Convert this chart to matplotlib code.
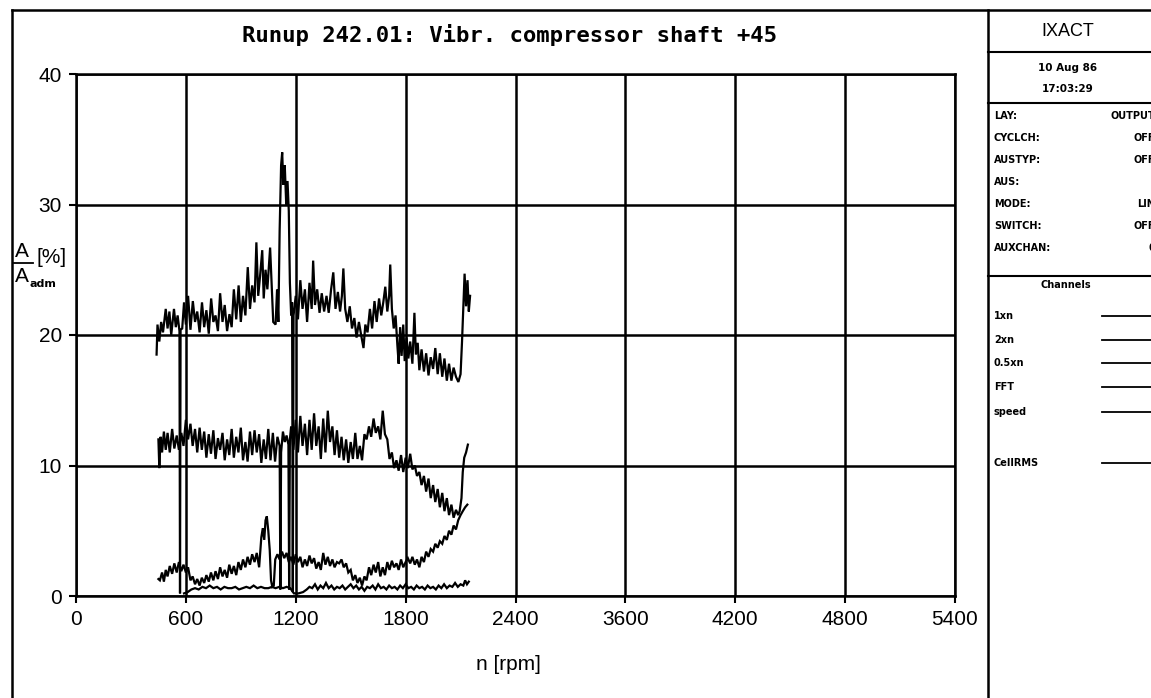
import matplotlib
matplotlib.use("Agg")
import matplotlib.pyplot as plt
from matplotlib.lines import Line2D

# ---------------- data ----------------
x_tick_pos = [0, 600, 1200, 1800, 2400, 3000, 3600, 4200, 4800]
x_tick_labels = ["0", "600", "1200", "1800", "2400", "3600", "4200", "4800", "5400"]
y_ticks = [0, 10, 20, 30, 40]

# trace 1 (upper, ~20 %)
s1_rpm = [440, 445, 455, 465, 475, 490, 500, 510, 520, 535, 545, 555, 565, 568, 571,
          580, 590, 600, 612, 625, 638, 650, 662, 675, 688, 700, 712, 725, 738, 750,
          762, 775, 787, 800, 812, 825, 838, 850, 862, 875, 888, 900, 912, 925, 938,
          950, 962, 975, 985, 995, 1005, 1017, 1025, 1035, 1045, 1060, 1068, 1077, 1090,
          1098, 1105, 1112, 1120, 1126, 1132, 1140, 1148, 1155, 1162, 1168, 1175, 1180,
          1184, 1188, 1200, 1212, 1225, 1237, 1250, 1262, 1275, 1287, 1295, 1305, 1317,
          1330, 1342, 1355, 1368, 1380, 1393, 1405, 1417, 1430, 1442, 1452, 1460, 1470,
          1482, 1495, 1507, 1520, 1532, 1545, 1557, 1570, 1580, 1592, 1605, 1617, 1630,
          1642, 1655, 1667, 1678, 1689, 1700, 1710, 1716, 1725, 1735, 1745, 1755, 1762,
          1770, 1778, 1787, 1795, 1805, 1815, 1825, 1837, 1848, 1856, 1866, 1875, 1887,
          1900, 1912, 1925, 1937, 1950, 1962, 1975, 1987, 2000, 2012, 2025, 2037, 2050,
          2062, 2075, 2088, 2100, 2108, 2115, 2122, 2130, 2138, 2145, 2152]
s1_amp = [18.5, 20.8, 19.5, 21.0, 20.2, 22.0, 20.5, 21.8, 20.0, 22.0, 20.6, 21.5, 20.3, 0.2, 20.4,
          20.5, 22.5, 20.8, 23.0, 20.4, 22.6, 21.0, 21.8, 20.2, 22.5, 20.6, 21.9, 20.1, 22.8, 21.0,
          21.5, 20.3, 23.2, 21.0, 22.3, 20.3, 21.6, 20.6, 23.5, 21.2, 23.8, 21.0, 23.0, 21.5, 25.2,
          22.0, 23.8, 22.5, 27.1, 23.0, 24.5, 26.5, 22.8, 25.0, 23.5, 26.7, 24.0, 21.0, 20.8,
          23.5, 21.0, 28.0, 33.0, 34.0, 31.5, 33.0, 30.0, 31.8, 29.5, 24.0, 21.5, 22.5,
          0.3, 21.5, 23.0, 21.2, 24.2, 22.0, 23.5, 21.0, 24.0, 22.0, 25.7, 22.3, 23.5,
          21.7, 23.2, 21.8, 23.0, 21.7, 23.5, 24.8, 22.0, 23.3, 21.8, 23.0, 25.1, 22.0,
          21.0, 22.2, 20.5, 21.3, 19.8, 21.0, 20.0, 19.0, 20.8, 20.2, 22.0, 20.5, 22.6,
          21.0, 22.8, 21.5, 22.5, 23.7, 21.8, 23.0, 25.4, 22.0, 20.5, 21.5, 19.2, 17.8,
          20.6, 18.4, 20.8, 18.0, 19.8, 18.2, 19.5, 17.8, 21.7, 18.5, 19.4, 17.3, 18.9,
          17.2, 18.6, 16.9, 18.3, 17.4, 19.0, 17.0, 18.6, 16.8, 18.2, 16.5, 17.8, 16.5,
          17.5, 16.8, 16.4, 17.0, 19.5, 22.0, 24.7, 22.2, 24.2, 21.8, 23.0]

# trace 2 (~12 %)
s2_rpm = [450, 455, 462, 470, 480, 490, 500, 512, 525, 537, 550, 562, 575, 587, 600,
          612, 625, 637, 650, 662, 675, 687, 700, 712, 725, 737, 750, 762, 775, 787,
          800, 812, 825, 837, 850, 862, 875, 887, 900, 912, 925, 937, 950, 962, 975,
          987, 1000, 1012, 1025, 1037, 1050, 1062, 1075, 1087, 1100, 1112, 1116, 1120,
          1130, 1140, 1150, 1160, 1164, 1168, 1175, 1187, 1200, 1212, 1225, 1237, 1250,
          1262, 1275, 1287, 1300, 1312, 1325, 1337, 1350, 1362, 1375, 1387, 1400, 1412,
          1425, 1437, 1450, 1462, 1475, 1487, 1500, 1512, 1525, 1537, 1550, 1562, 1575,
          1587, 1600, 1612, 1625, 1637, 1650, 1662, 1675, 1687, 1700, 1712, 1725, 1737,
          1750, 1762, 1775, 1787, 1800, 1812, 1825, 1837, 1850, 1862, 1875, 1887, 1900,
          1912, 1925, 1937, 1950, 1962, 1975, 1987, 2000, 2012, 2025, 2037, 2050, 2062,
          2075, 2087, 2095, 2105, 2112, 2120, 2130, 2140]
s2_amp = [12.0, 9.8, 12.2, 11.0, 12.6, 11.2, 12.5, 11.0, 12.8, 11.3, 12.3, 11.2, 12.5, 11.5, 13.5,
          12.0, 13.2, 11.5, 12.8, 11.0, 12.9, 11.2, 12.6, 10.6, 12.4, 10.9, 12.7, 10.5, 12.1, 11.2,
          12.5, 10.4, 12.0, 10.8, 12.8, 10.6, 12.2, 11.0, 12.9, 10.4, 11.8, 10.3, 12.6, 10.8, 12.7,
          11.0, 12.4, 10.2, 12.0, 10.5, 12.8, 10.4, 12.5, 10.3, 12.2, 11.5, 0.5, 11.0,
          12.6, 11.8, 12.3, 11.6, 0.5, 12.0, 13.0, 11.2, 13.5, 11.0, 13.8, 11.5, 13.2,
          10.8, 13.5, 11.2, 14.0, 11.5, 13.0, 10.5, 13.6, 11.0, 14.2, 11.8, 13.0, 10.8,
          12.7, 10.6, 12.2, 10.4, 12.0, 10.2, 11.8, 10.5, 12.5, 10.5, 11.5, 10.4, 12.4,
          12.0, 13.0, 12.2, 13.6, 12.5, 13.0, 12.0, 14.2, 12.4, 12.0, 10.5, 11.0, 9.8,
          10.4, 9.6, 10.8, 9.5, 10.6, 9.8, 10.9, 9.7, 10.0, 9.2, 9.5, 8.5, 9.2,
          8.0, 9.0, 7.5, 8.5, 7.2, 8.2, 6.8, 7.9, 6.5, 7.5, 6.2, 7.0, 6.0,
          6.6, 6.2, 6.5, 7.5, 9.5, 10.6, 11.0, 11.6]

# trace 3 (~2 %, rising at the end)
s3_rpm = [450, 458, 470, 480, 490, 500, 512, 525, 537, 550, 562, 575, 587, 600, 612,
          625, 637, 650, 662, 675, 687, 700, 712, 725, 737, 750, 762, 775, 787, 800,
          812, 825, 837, 850, 862, 875, 887, 900, 912, 925, 937, 950, 962, 975, 987,
          1000, 1012, 1020, 1028, 1035, 1042, 1050, 1058, 1065, 1072, 1080, 1088, 1100,
          1112, 1125, 1137, 1150, 1162, 1175, 1187, 1200, 1212, 1225, 1237, 1250, 1262,
          1275, 1287, 1300, 1312, 1325, 1337, 1350, 1362, 1375, 1387, 1400, 1412, 1425,
          1437, 1450, 1462, 1475, 1487, 1500, 1512, 1525, 1537, 1550, 1562, 1575, 1587,
          1600, 1612, 1625, 1637, 1650, 1662, 1675, 1687, 1700, 1712, 1725, 1737, 1750,
          1762, 1775, 1787, 1800, 1812, 1825, 1837, 1850, 1862, 1875, 1887, 1900, 1912,
          1925, 1937, 1950, 1962, 1975, 1987, 2000, 2012, 2025, 2037, 2050, 2062, 2075,
          2087, 2100, 2112, 2125, 2137]
s3_amp = [1.3, 1.2, 1.8, 1.1, 2.0, 1.5, 2.3, 1.7, 2.5, 1.8, 2.6, 1.9, 2.4, 1.8, 2.2,
          1.2, 1.5, 0.9, 1.3, 0.8, 1.4, 1.0, 1.6, 1.1, 1.8, 1.2, 1.9, 1.3, 2.2, 1.5,
          2.0, 1.4, 2.4, 1.7, 2.3, 1.6, 2.6, 2.0, 2.8, 2.2, 3.0, 2.4, 3.2, 2.6, 3.3,
          2.2, 4.5, 5.2, 4.3, 5.8, 6.1, 5.0, 3.5, 1.2, 0.7, 0.8, 2.8, 3.2,
          2.8, 3.4, 2.9, 3.3, 2.6, 3.0, 2.4, 3.2, 2.6, 3.0, 2.2, 2.8, 2.3,
          3.1, 2.5, 2.9, 2.1, 2.6, 2.0, 3.3, 2.4, 3.0, 2.3, 2.8, 2.2, 2.6,
          2.5, 2.8, 2.2, 2.5, 1.8, 2.0, 1.2, 1.6, 1.0, 1.4, 0.8, 1.5, 1.2,
          2.2, 1.6, 2.4, 1.8, 2.6, 1.5, 2.2, 1.6, 2.6, 2.0, 2.7, 2.2, 2.5,
          2.0, 2.8, 2.2, 2.6, 2.9, 2.5, 3.0, 2.4, 2.8, 2.2, 3.0, 2.6, 3.4,
          3.0, 3.6, 3.4, 4.0, 3.7, 4.2, 4.0, 4.6, 4.3, 5.0, 4.7, 5.4, 5.1,
          5.8, 6.2, 6.5, 6.8, 7.0]

# trace 4 (near zero)
s4_rpm = [590, 610, 630, 650, 670, 690, 710, 730, 750, 770, 790, 810, 830, 850, 870,
          890, 910, 930, 950, 970, 990, 1010, 1030, 1050, 1070, 1090, 1110, 1130, 1150,
          1170, 1190, 1215, 1240, 1260, 1275, 1290, 1305, 1320, 1335, 1350, 1365, 1380,
          1395, 1410, 1425, 1440, 1455, 1470, 1485, 1500, 1515, 1530, 1545, 1560, 1575,
          1590, 1605, 1620, 1635, 1650, 1665, 1680, 1695, 1710, 1725, 1740, 1755, 1770,
          1785, 1800, 1815, 1830, 1845, 1860, 1875, 1890, 1905, 1920, 1935, 1950, 1965,
          1980, 1995, 2010, 2025, 2040, 2055, 2070, 2085, 2100, 2115, 2125, 2135, 2145]
s4_amp = [0.2, 0.3, 0.5, 0.6, 0.5, 0.7, 0.6, 0.8, 0.6, 0.7, 0.5, 0.7, 0.6, 0.6, 0.7,
          0.5, 0.6, 0.7, 0.6, 0.8, 0.6, 0.7, 0.6, 0.6, 0.7, 0.6, 0.7, 0.6, 0.7,
          0.6, 0.2, 0.2, 0.3, 0.5, 0.7, 0.6, 0.9, 0.5, 0.8, 0.6, 1.0, 0.6,
          0.8, 0.5, 0.7, 0.6, 0.8, 0.5, 0.7, 0.9, 0.6, 0.8, 0.5, 0.7, 0.4,
          0.7, 0.6, 0.8, 0.5, 0.9, 0.6, 0.7, 0.5, 0.8, 0.6, 0.7, 0.5, 0.8,
          0.6, 0.9, 0.6, 0.7, 0.5, 0.8, 0.6, 0.7, 0.5, 0.8, 0.6, 0.7, 0.5,
          0.8, 0.6, 0.9, 0.6, 0.8, 0.7, 1.0, 0.7, 0.9, 0.8, 1.2, 0.9, 1.1]

title_text = "Runup 242.01: Vibr. compressor shaft +45"
panel_rows = [("LAY:", "OUTPUT"), ("CYCLCH:", "OFF"), ("AUSTYP:", "OFF"), ("AUS:", ""),
              ("MODE:", "LIN"), ("SWITCH:", "OFF"), ("AUXCHAN:", "0")]
channel_names = ["1xn", "2xn", "0.5xn", "FFT", "speed", "CellRMS"]

# ---------------- figure ----------------
W, H = 1151, 698
fig = plt.figure(figsize=(W / 100, H / 100), dpi=100)
fig.patch.set_facecolor("white")


def fx(x):
    return x / W


def fy(y):
    return 1 - y / H


ax = fig.add_axes([fx(76), fy(596), (955 - 76) / W, (596 - 74) / H])
for r, a in [(s1_rpm, s1_amp), (s2_rpm, s2_amp), (s3_rpm, s3_amp), (s4_rpm, s4_amp)]:
    ax.plot(r, a, color="black", lw=1.6, solid_joinstyle="miter")

ax.set_xlim(0, 4800)
ax.set_ylim(0, 40)
ax.set_xticks(x_tick_pos)
ax.set_xticklabels(x_tick_labels)
ax.set_yticks(y_ticks)
ax.grid(True, color="black", lw=1.8)
ax.set_axisbelow(True)
for s in ax.spines.values():
    s.set_linewidth(1.8)
    s.set_color("black")
ax.tick_params(direction="out", length=5, width=1.5, labelsize=15, pad=5, colors="black")
for lab in ax.get_xticklabels() + ax.get_yticklabels():
    lab.set_fontfamily("Liberation Sans")


# frame lines
def fline(x0, y0, x1, y1, lw=1.8):
    fig.add_artist(Line2D([fx(x0), fx(x1)], [fy(y0), fy(y1)], color="black", lw=lw,
                          transform=fig.transFigure))


fline(12, 10, W, 10)
fline(12, 10, 12, H)
fline(988, 10, 988, H)
fline(988, 52, W, 52, 1.5)
fline(988, 103, W, 103, 1.5)
fline(988, 276, W, 276, 1.5)

# title
fig.text(fx(509), fy(35), title_text, ha="center", va="center", fontsize=16,
         family="DejaVu Sans Mono", weight="bold")
# x label
fig.text(fx(508), fy(665), "n [rpm]", ha="center", va="center", fontsize=15,
         family="Liberation Sans")
# y label  A / A_adm [%]
fig.text(fx(22), fy(252), "A", ha="center", va="center", fontsize=15, family="Liberation Sans")
fline(14, 263, 33, 263, 1.3)
fig.text(fx(22), fy(276), "A", ha="center", va="center", fontsize=15, family="Liberation Sans")
fig.text(fx(30), fy(284), "adm", ha="left", va="center", fontsize=8, family="DejaVu Sans",
         weight="bold")
fig.text(fx(36), fy(258), "[%]", ha="left", va="center", fontsize=15, family="Liberation Sans")

# right panel
fig.text(fx(1068), fy(31), "IXACT", ha="center", va="center", fontsize=13,
         family="Liberation Sans")
fig.text(fx(1068), fy(68), "10 Aug 86", ha="center", va="center", fontsize=7.5,
         family="DejaVu Sans", weight="bold")
fig.text(fx(1068), fy(89), "17:03:29", ha="center", va="center", fontsize=7.5,
         family="DejaVu Sans", weight="bold")
row_y = [116, 138, 160, 182, 204, 226, 248]
for (lab, val), yy in zip(panel_rows, row_y):
    fig.text(fx(994), fy(yy), lab, ha="left", va="center", fontsize=7,
             family="DejaVu Sans", weight="bold")
    if val:
        fig.text(fx(1155), fy(yy), val, ha="right", va="center", fontsize=7,
                 family="DejaVu Sans", weight="bold")
fig.text(fx(1066), fy(285), "Channels", ha="center", va="center", fontsize=7,
         family="DejaVu Sans", weight="bold")
chan_y = [316, 340, 363, 387, 412, 463]
for name, yy in zip(channel_names, chan_y):
    fig.text(fx(994), fy(yy), name, ha="left", va="center", fontsize=7,
             family="DejaVu Sans", weight="bold")
    fline(1102, yy, W, yy, 1.3)

fig.savefig("out.png", dpi=100)
